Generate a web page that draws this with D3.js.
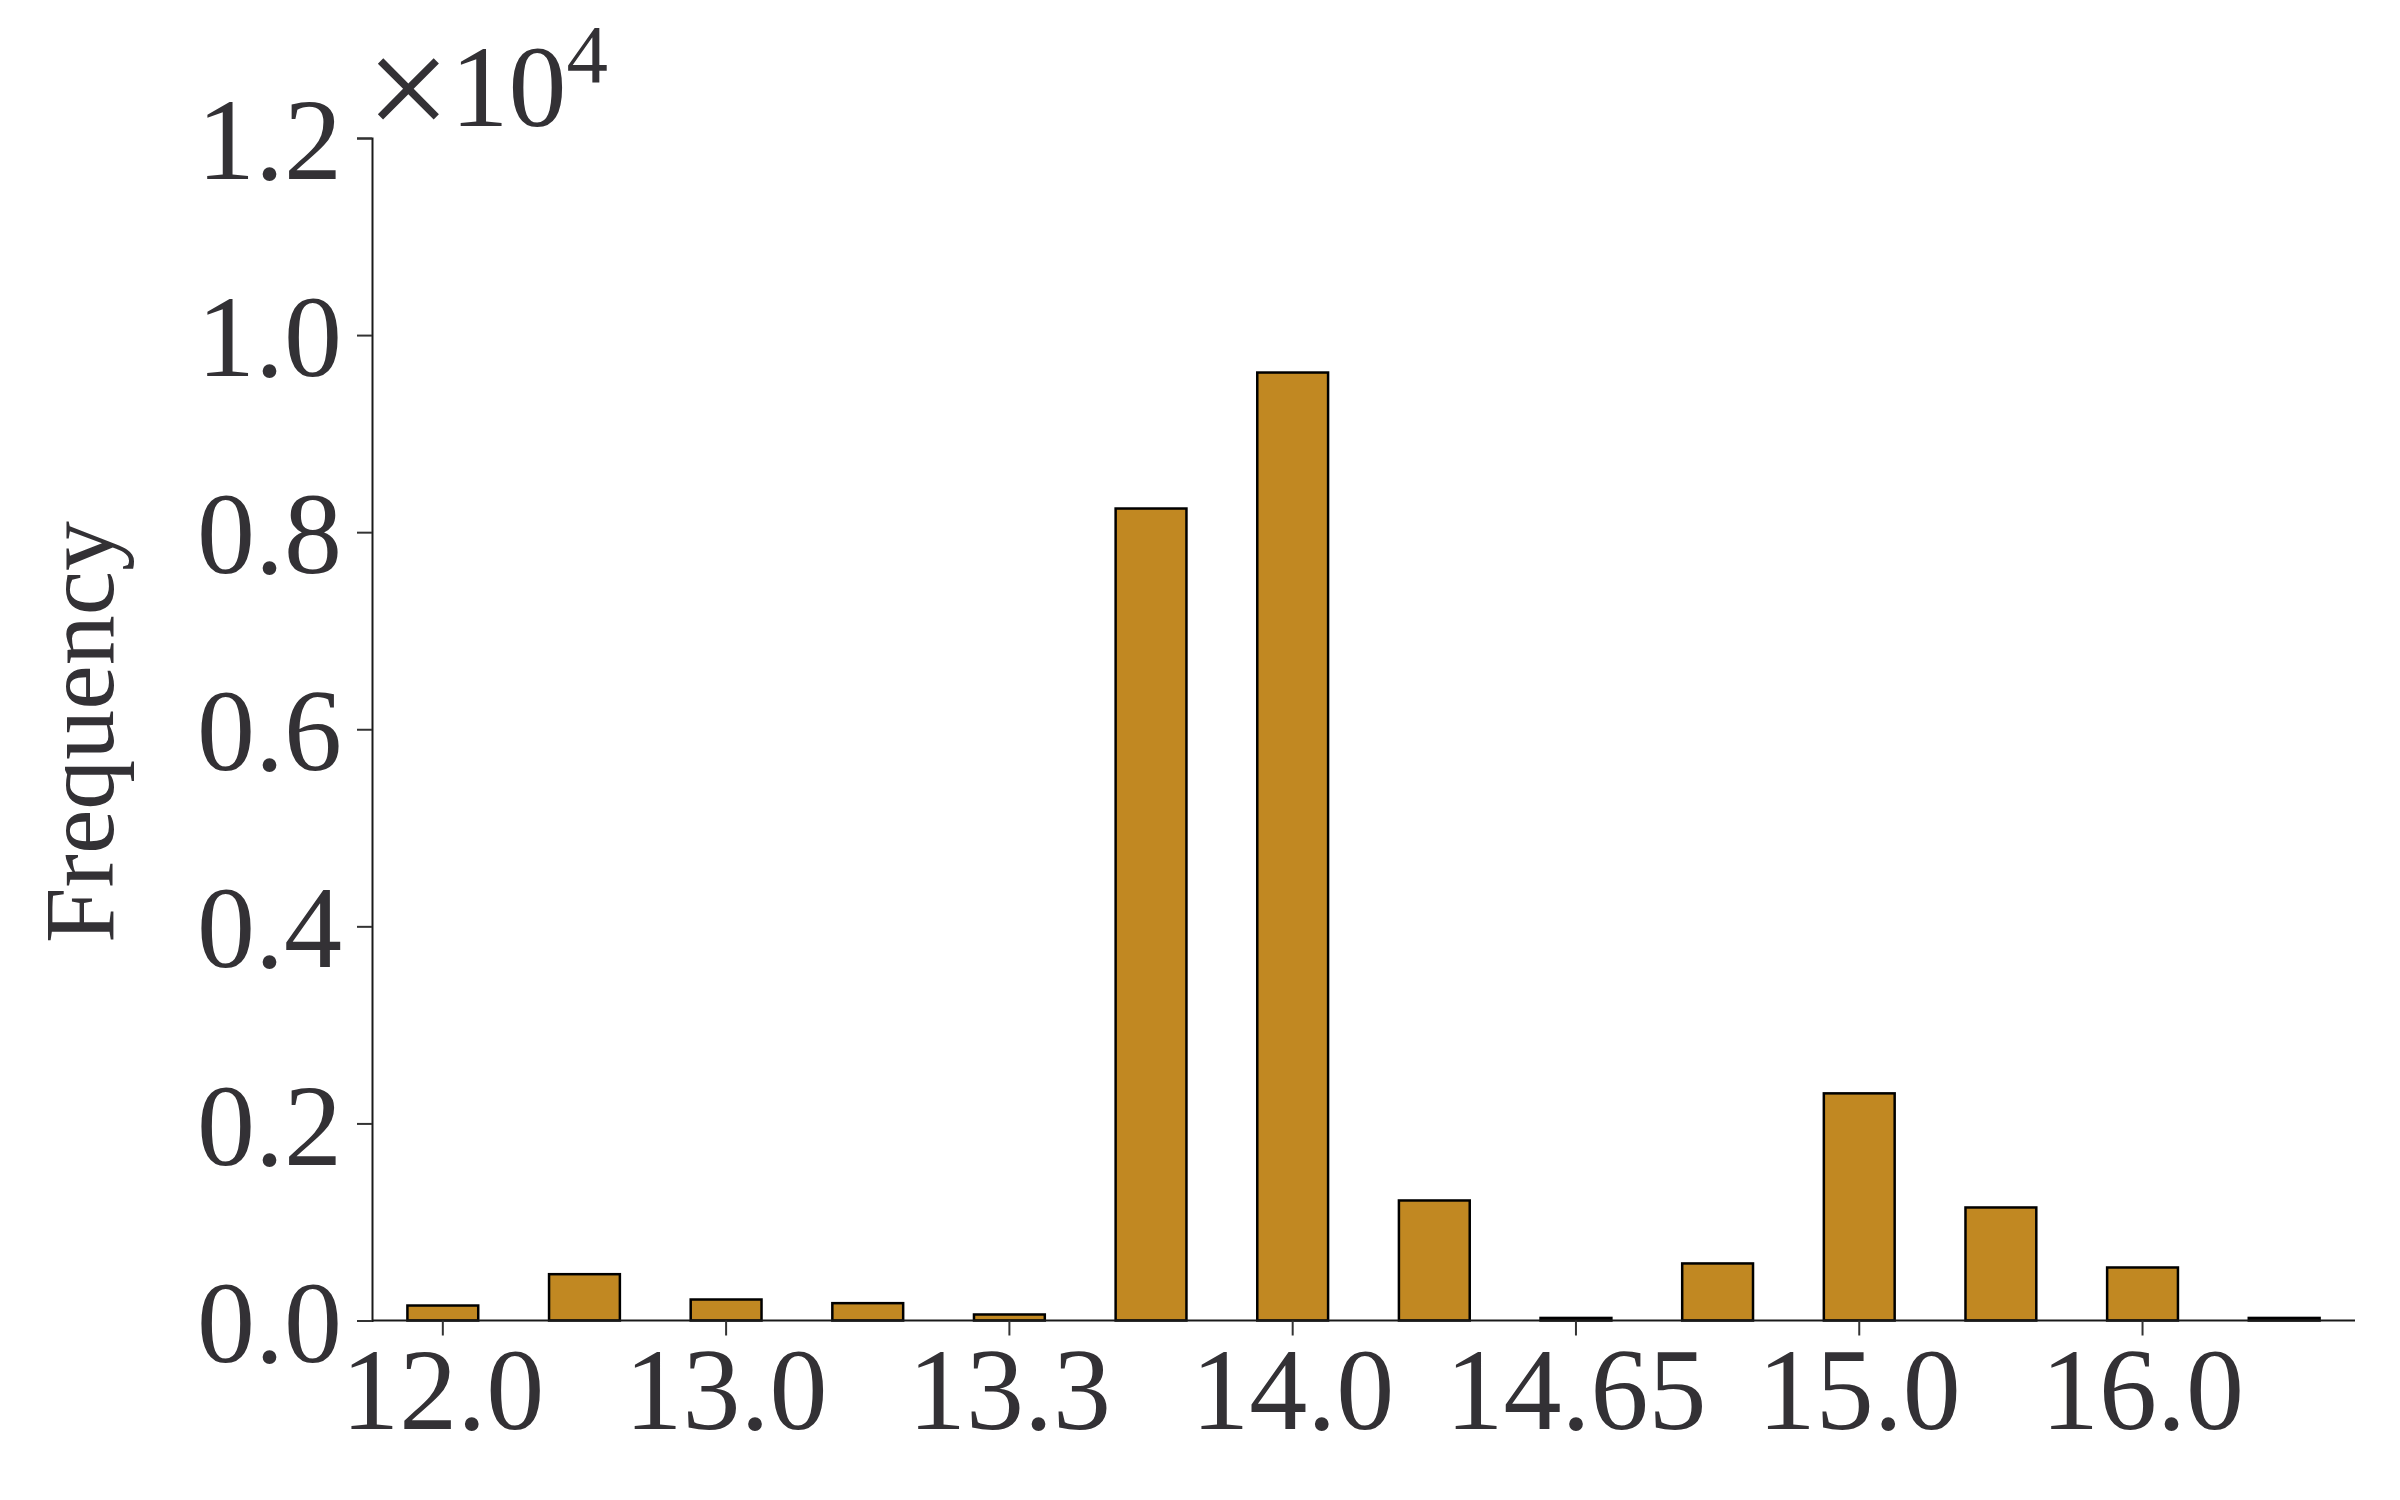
<!DOCTYPE html>
<html>
<head>
<meta charset="utf-8">
<script src="https://cdn.jsdelivr.net/npm/d3@7"></script>
<style>
    body { margin: 0; background: #fff; }
    text { font-family: "Liberation Serif", "Times New Roman", serif; fill: #333135; }
</style>
</head>
<body>
<div id="chart"></div>
<script>

//==================================//
// Data
//

const barIndex = d3.range(14)
const counts = [152, 470, 213, 176, 61, 8240, 9620, 1218, 26, 579, 2305, 1147, 538, 26]
const tickIndex = [0, 2, 4, 6, 8, 10, 12]
const tickLabels = ['12.0', '13.0', '13.3', '14.0', '14.65', '15.0', '16.0']
const yTicks = [0, 2000, 4000, 6000, 8000, 10000, 12000]

//==================================//
// Layout
//

const svgw = 2400, svgh = 1500
const plotL = 372, plotR = 2355, plotT = 138, plotB = 1320.5
const fontTick = 116

let svg = d3.select('#chart').append('svg')
    .attr('width', svgw)
    .attr('height', svgh)

let x = d3.scaleBand()
    .domain(barIndex)
    .range([plotL, plotR])
    .paddingInner(0.5)
    .paddingOuter(0.25)

let y = d3.scaleLinear()
    .domain([0, 12000])
    .range([plotB, plotT])

//====[ bars ]====//

svg.append('g').selectAll('rect')
    .data(counts)
    .enter()
    .append('rect')
    .attr('x', (d, i) => x(i))
    .attr('width', x.bandwidth())
    .attr('y', d => y(d))
    .attr('height', d => y(0) - y(d))
    .attr('fill', '#c18822')
    .attr('stroke', '#000')
    .attr('stroke-width', 2.5)

//====[ axes ]====//

let xAxis = d3.axisBottom(x)
    .tickValues(tickIndex)
    .tickFormat((d, i) => tickLabels[i])
    .tickSize(15)
    .tickPadding(11)

let yAxis = d3.axisLeft(y)
    .tickValues(yTicks)
    .tickFormat(d => d3.format('.1f')(d / 10000))
    .tickSize(15)
    .tickPadding(15)

let gx = svg.append('g')
    .attr('transform', 'translate(0,' + plotB + ')')
    .call(xAxis)

let gy = svg.append('g')
    .attr('transform', 'translate(' + plotL + ',0)')
    .call(yAxis)

gx.select('.domain').attr('d', 'M' + plotL + ',0H' + plotR)

for (let g of [gx, gy]) {
    g.select('.domain').attr('stroke', '#1a1a1a').attr('stroke-width', 2)
    g.selectAll('.tick line').attr('stroke', '#333').attr('stroke-width', 2)
    g.selectAll('.tick text')
        .attr('font-size', fontTick)
        .attr('font-family', '"Liberation Serif", "Times New Roman", serif')
        .attr('fill', '#333135')
}
gy.selectAll('.tick text').attr('dy', '0.35em')

//====[ labels ]====//

svg.append('text')
    .attr('transform', 'translate(113,' + 732 + ') rotate(-90)')
    .attr('text-anchor', 'middle')
    .attr('font-size', 100)
    .text('Frequency')

// offset text (x10^4) above the y axis
let offset = svg.append('text')
    .attr('x', plotL - 6)
    .attr('y', 126)
    .attr('font-size', fontTick)
offset.append('tspan')
    .attr('font-size', 150)
    .attr('dy', 13)
    .text('\u00d7')
offset.append('tspan')
    .attr('dy', -13)
    .text('10')
offset.append('tspan')
    .attr('font-size', 83)
    .attr('dy', -44)
    .text('4')

</script>
</body>
</html>
